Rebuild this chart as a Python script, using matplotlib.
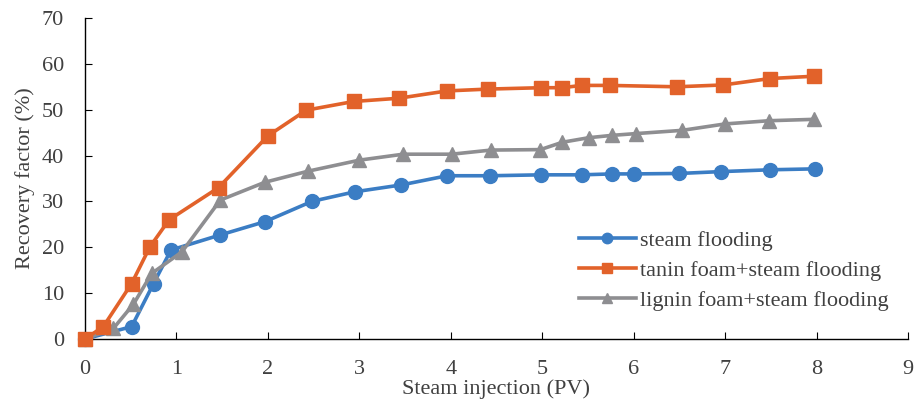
import matplotlib.pyplot as plt
import numpy as np

# Data
steam_x = [0, 0.51, 0.75, 0.94, 1.48, 1.97, 2.48, 2.95, 3.46, 3.96, 4.43, 4.99, 5.43, 5.76, 6.0, 6.5, 6.95, 7.49, 7.98]
steam_y = [0, 2.7, 12.1, 19.4, 22.7, 25.6, 30.0, 32.1, 33.6, 35.6, 35.6, 35.8, 35.8, 36.0, 36.0, 36.1, 36.5, 36.9, 37.1]

tanin_x = [0, 0.2, 0.51, 0.71, 0.92, 1.46, 2.0, 2.42, 2.94, 3.43, 3.96, 4.41, 4.99, 5.22, 5.43, 5.74, 6.47, 6.98, 7.49, 7.97]
tanin_y = [0, 2.7, 12.1, 20.1, 26.0, 33.0, 44.3, 49.9, 51.8, 52.5, 54.1, 54.5, 54.8, 54.8, 55.3, 55.3, 55.0, 55.4, 56.8, 57.3]

lignin_x = [0, 0.31, 0.53, 0.73, 1.06, 1.48, 1.97, 2.44, 3.0, 3.48, 4.01, 4.44, 4.98, 5.22, 5.51, 5.76, 6.03, 6.53, 7.0, 7.48, 7.97]
lignin_y = [0, 2.3, 7.6, 14.3, 19.0, 30.3, 34.2, 36.6, 39.0, 40.3, 40.3, 41.2, 41.3, 42.9, 43.9, 44.4, 44.8, 45.5, 46.9, 47.6, 47.9]

labels = ["steam flooding", "tanin foam+steam flooding", "lignin foam+steam flooding"]

plt.rcParams['font.family'] = ['Liberation Serif', 'DejaVu Serif']
text_color = "#404040"
fs = 16

fig = plt.figure(figsize=(9.14, 4.03), dpi=100)
ax = fig.add_axes([85 / 914, (403 - 339) / 403, (908 - 85) / 914, (339 - 18) / 403])

# stacking: blue bottom, gray middle, orange top
ax.plot(steam_x, steam_y, color="#3B7DC4", lw=2.6, marker="o", ms=10, label=labels[0], zorder=2)
ax.plot(tanin_x, tanin_y, color="#E2622A", lw=2.6, marker="s", ms=10, label=labels[1], zorder=4)
ax.plot(lignin_x, lignin_y, color="#8E8E91", lw=2.6, marker="^", ms=10, label=labels[2], zorder=3)

ax.set_xlim(0, 9)
ax.set_ylim(0, 70)
ax.set_xticks(np.arange(0, 10, 1))
ax.set_yticks(np.arange(0, 80, 10))
ax.tick_params(direction="in", length=5, labelsize=fs, colors="black", labelcolor=text_color)
ax.tick_params(axis="x", pad=15)
ax.tick_params(axis="y", pad=15)
for line in ax.get_lines():
    line.set_clip_on(False)
for s in ["top", "right"]:
    ax.spines[s].set_visible(False)
for s in ["left", "bottom"]:
    ax.spines[s].set_linewidth(1.0)

ax.set_xlabel("Steam injection (PV)", fontsize=fs, color=text_color, labelpad=0)
ax.set_ylabel("Recovery factor (%)", fontsize=fs, color=text_color, labelpad=5)

ax.legend(loc="center left", bbox_to_anchor=(0.576, 0.213), frameon=False, fontsize=fs,
          handlelength=2.55, handletextpad=0.2, labelspacing=0.42, labelcolor=text_color,
          markerscale=0.75)

fig.savefig("out.png", dpi=100)
